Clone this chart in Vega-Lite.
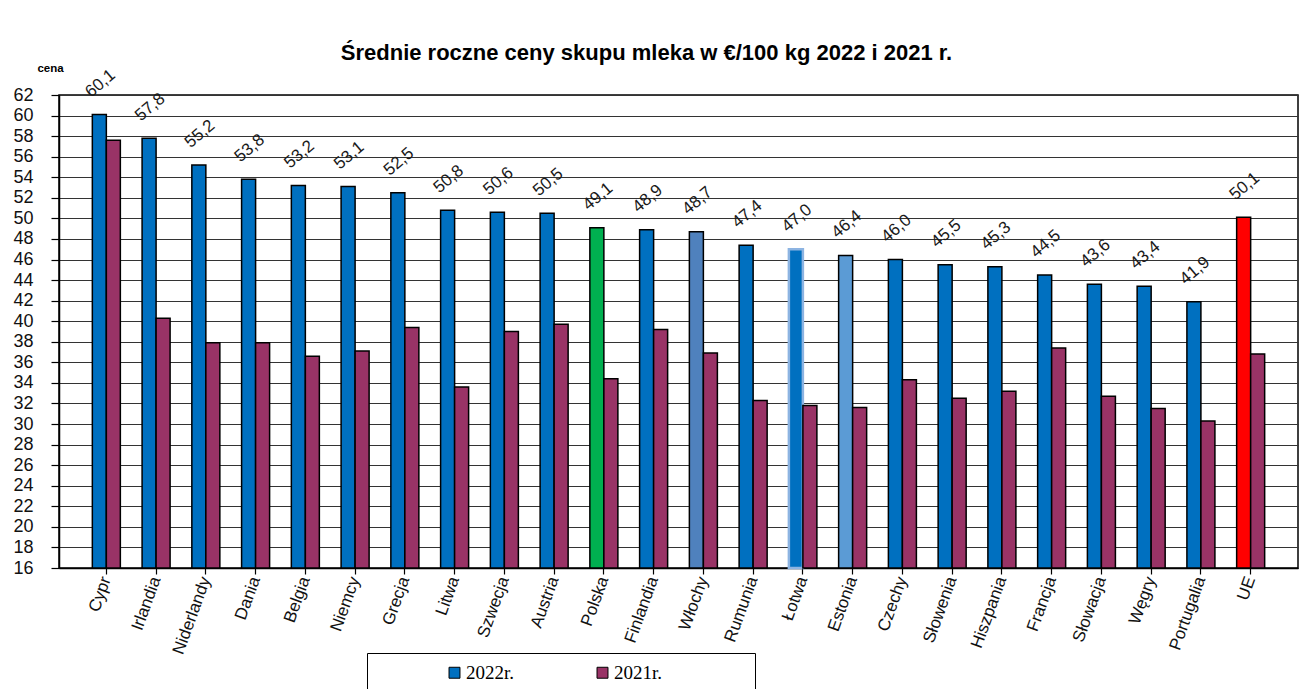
{
  "$schema": "https://vega.github.io/schema/vega-lite/v6.json",
  "width": 1239,
  "height": 473,
  "autosize": {"type": "none"},
  "padding": {"left": 59, "top": 95, "right": 14, "bottom": 121},
  "background": "white",
  "title": {
    "text": "Średnie roczne ceny skupu mleka w €/100 kg  2022 i 2021 r.",
    "font": "Liberation Sans",
    "fontSize": 22,
    "fontWeight": "bold",
    "color": "#000",
    "anchor": "middle",
    "dx": -32,
    "offset": -3
  },
  "config": {
    "locale": {"number": {"decimal": ",", "thousands": " ", "grouping": [3], "currency": ["", " €"]}},
    "view": {"stroke": "#000", "strokeWidth": 1.5},
    "font": "Liberation Sans"
  },
  "data": {
    "values": [
      {"kraj": "Cypr", "rok": "2022r.", "cena": 60.1},
      {"kraj": "Cypr", "rok": "2021r.", "cena": 57.6},
      {"kraj": "Irlandia", "rok": "2022r.", "cena": 57.8},
      {"kraj": "Irlandia", "rok": "2021r.", "cena": 40.3},
      {"kraj": "Niderlandy", "rok": "2022r.", "cena": 55.2},
      {"kraj": "Niderlandy", "rok": "2021r.", "cena": 37.9},
      {"kraj": "Dania", "rok": "2022r.", "cena": 53.8},
      {"kraj": "Dania", "rok": "2021r.", "cena": 37.9},
      {"kraj": "Belgia", "rok": "2022r.", "cena": 53.2},
      {"kraj": "Belgia", "rok": "2021r.", "cena": 36.6},
      {"kraj": "Niemcy", "rok": "2022r.", "cena": 53.1},
      {"kraj": "Niemcy", "rok": "2021r.", "cena": 37.1},
      {"kraj": "Grecja", "rok": "2022r.", "cena": 52.5},
      {"kraj": "Grecja", "rok": "2021r.", "cena": 39.4},
      {"kraj": "Litwa", "rok": "2022r.", "cena": 50.8},
      {"kraj": "Litwa", "rok": "2021r.", "cena": 33.6},
      {"kraj": "Szwecja", "rok": "2022r.", "cena": 50.6},
      {"kraj": "Szwecja", "rok": "2021r.", "cena": 39.0},
      {"kraj": "Austria", "rok": "2022r.", "cena": 50.5},
      {"kraj": "Austria", "rok": "2021r.", "cena": 39.7},
      {"kraj": "Polska", "rok": "2022r.", "cena": 49.1},
      {"kraj": "Polska", "rok": "2021r.", "cena": 34.4},
      {"kraj": "Finlandia", "rok": "2022r.", "cena": 48.9},
      {"kraj": "Finlandia", "rok": "2021r.", "cena": 39.2},
      {"kraj": "Włochy", "rok": "2022r.", "cena": 48.7},
      {"kraj": "Włochy", "rok": "2021r.", "cena": 36.9},
      {"kraj": "Rumunia", "rok": "2022r.", "cena": 47.4},
      {"kraj": "Rumunia", "rok": "2021r.", "cena": 32.3},
      {"kraj": "Łotwa", "rok": "2022r.", "cena": 47.0},
      {"kraj": "Łotwa", "rok": "2021r.", "cena": 31.8},
      {"kraj": "Estonia", "rok": "2022r.", "cena": 46.4},
      {"kraj": "Estonia", "rok": "2021r.", "cena": 31.6},
      {"kraj": "Czechy", "rok": "2022r.", "cena": 46.0},
      {"kraj": "Czechy", "rok": "2021r.", "cena": 34.3},
      {"kraj": "Słowenia", "rok": "2022r.", "cena": 45.5},
      {"kraj": "Słowenia", "rok": "2021r.", "cena": 32.5},
      {"kraj": "Hiszpania", "rok": "2022r.", "cena": 45.3},
      {"kraj": "Hiszpania", "rok": "2021r.", "cena": 33.2},
      {"kraj": "Francja", "rok": "2022r.", "cena": 44.5},
      {"kraj": "Francja", "rok": "2021r.", "cena": 37.4},
      {"kraj": "Słowacja", "rok": "2022r.", "cena": 43.6},
      {"kraj": "Słowacja", "rok": "2021r.", "cena": 32.7},
      {"kraj": "Węgry", "rok": "2022r.", "cena": 43.4},
      {"kraj": "Węgry", "rok": "2021r.", "cena": 31.5},
      {"kraj": "Portugalia", "rok": "2022r.", "cena": 41.9},
      {"kraj": "Portugalia", "rok": "2021r.", "cena": 30.3},
      {"kraj": "UE", "rok": "2022r.", "cena": 50.1},
      {"kraj": "UE", "rok": "2021r.", "cena": 36.8}
    ]
  },
  "encoding": {
    "x": {
      "field": "kraj",
      "type": "nominal",
      "sort": ["Cypr", "Irlandia", "Niderlandy", "Dania", "Belgia", "Niemcy", "Grecja", "Litwa", "Szwecja", "Austria", "Polska", "Finlandia", "Włochy", "Rumunia", "Łotwa", "Estonia", "Czechy", "Słowenia", "Hiszpania", "Francja", "Słowacja", "Węgry", "Portugalia", "UE"],
      "scale": {"paddingInner": 0.437, "paddingOuter": 0.67},
      "axis": {
        "title": null,
        "labelAngle": -70,
        "labelAlign": "right",
        "labelBaseline": "middle",
        "labelFont": "Liberation Sans",
        "labelFontSize": 17,
        "labelColor": "#111",
        "labelPadding": 3,
        "tickSize": 6,
        "tickColor": "#000",
        "tickWidth": 1.2,
        "domainColor": "#000",
        "domainWidth": 1.5,
        "grid": false
      }
    },
    "xOffset": {
      "field": "rok",
      "type": "nominal",
      "sort": ["2022r.", "2021r."],
      "scale": {"domain": ["2022r.", "2021r."], "paddingInner": 0, "paddingOuter": 0}
    },
    "y": {
      "field": "cena",
      "type": "quantitative",
      "scale": {"domain": [16, 62], "zero": false, "nice": false},
      "axis": {
        "title": "cena",
        "titleAngle": 0,
        "titleX": -9,
        "titleY": -27,
        "titleAlign": "center",
        "titleBaseline": "middle",
        "titleFont": "Liberation Sans",
        "titleFontSize": 11.5,
        "titleFontWeight": "bold",
        "titleColor": "#000",
        "values": [16, 18, 20, 22, 24, 26, 28, 30, 32, 34, 36, 38, 40, 42, 44, 46, 48, 50, 52, 54, 56, 58, 60, 62],
        "format": "d",
        "labelFont": "Liberation Sans",
        "labelFontSize": 18,
        "labelColor": "#111",
        "labelPadding": 18,
        "tickSize": 8,
        "tickColor": "#000",
        "tickWidth": 1.2,
        "domainColor": "#000",
        "domainWidth": 1.5,
        "grid": true,
        "gridColor": "#333",
        "gridWidth": 1.2
      }
    }
  },
  "layer": [
    {
      "mark": {"type": "bar"},
      "encoding": {
        "y2": {"datum": 16},
        "color": {
          "condition": [
            {"test": "datum.rok === '2022r.' && datum.kraj === 'Polska'", "value": "#00B050"},
            {"test": "datum.rok === '2022r.' && datum.kraj === 'Włochy'", "value": "#4F81BD"},
            {"test": "datum.rok === '2022r.' && datum.kraj === 'Estonia'", "value": "#5B9BD5"},
            {"test": "datum.rok === '2022r.' && datum.kraj === 'UE'", "value": "#FF0000"}
          ],
          "field": "rok",
          "type": "nominal",
          "scale": {"domain": ["2022r.", "2021r."], "range": ["#0070C0", "#993366"]},
          "legend": {
            "title": " ",
            "titleOrient": "right",
            "titlePadding": 83,
            "titleFontSize": 10,
            "orient": "none",
            "legendX": 308,
            "legendY": 558,
            "direction": "horizontal",
            "strokeColor": "#000",
            "fillColor": "#fff",
            "padding": 10,
            "symbolType": "square",
            "symbolSize": 120,
            "symbolStrokeColor": "#000",
            "symbolStrokeWidth": 1,
            "symbolOpacity": 1,
            "labelFont": "Liberation Serif",
            "labelFontSize": 19,
            "labelColor": "#000",
            "labelOffset": 2,
            "symbolOffset": 68,
            "columnPadding": 10
          }
        },
        "stroke": {
          "condition": {"test": "datum.rok === '2022r.' && datum.kraj === 'Łotwa'", "value": "#8DB4E2"},
          "value": "#000"
        },
        "strokeWidth": {
          "condition": {"test": "datum.rok === '2022r.' && datum.kraj === 'Łotwa'", "value": 2.5},
          "value": 1.5
        }
      }
    },
    {
      "transform": [{"filter": "datum.rok === '2022r.'"}],
      "mark": {
        "type": "text",
        "angle": -40,
        "align": "center",
        "baseline": "middle",
        "dx": 20.7,
        "dy": -23.1,
        "font": "Liberation Sans",
        "fontSize": 17,
        "color": "#1a1a1a"
      },
      "encoding": {
        "text": {"field": "cena", "type": "quantitative", "format": ".1f"}
      }
    }
  ]
}
